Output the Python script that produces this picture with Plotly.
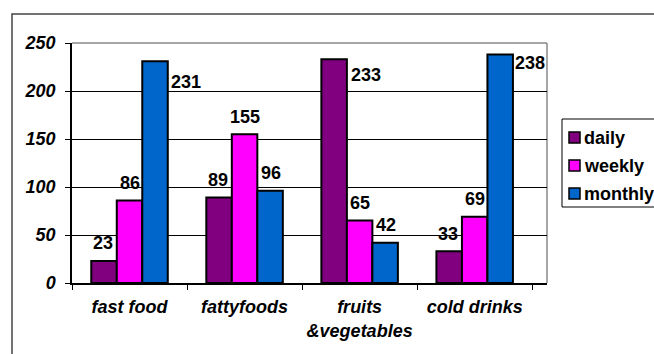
import plotly.graph_objects as go

categories = ["fast food", "fattyfoods", "fruits<br>&vegetables", "cold drinks"]
series_names = ["daily", "weekly", "monthly"]
daily = [23, 89, 233, 33]
weekly = [86, 155, 65, 69]
monthly = [231, 96, 42, 238]
y_ticks = [0, 50, 100, 150, 200, 250]

colors = ["#800080", "#FF00FF", "#0066CC"]
series_values = [daily, weekly, monthly]

W, H = 654, 354
L, R, T, B = 72, 547, 43, 283  # plot area in pixels
BARGAP = 0.335

def px(xp):
    return (xp - L) / (R - L)

def py(yp):
    return (B - yp) / (B - T)

FONT = "Liberation Sans, Arial, sans-serif"
FS = 18

fig = go.Figure()
for name, vals, c in zip(series_names, series_values, colors):
    fig.add_trace(go.Bar(
        x=categories, y=vals, name=name,
        marker=dict(color=c, line=dict(color="black", width=2)),
        showlegend=False,
    ))

# value labels
cat_w = (R - L) / len(categories)
bar_w = cat_w * (1 - BARGAP) / len(series_names)
special = {(0, 2): (30, -21), (2, 0): (33, -16), (3, 2): (29, -8)}
annotations = []
for si, vals in enumerate(series_values):
    for ci, v in enumerate(vals):
        dx, dy = special.get((ci, si), (0, 17.5))
        annotations.append(dict(
            x=categories[ci], y=v, xref="x", yref="y",
            text=str(v), showarrow=False,
            xshift=(si - 1) * bar_w + dx, yshift=dy,
            yanchor="middle", xanchor="center",
            font=dict(family=FONT, size=FS, color="black", weight="bold"),
        ))

# manual legend
shapes = []
shapes.append(dict(type="rect", xref="paper", yref="paper",
                   x0=px(562), x1=px(680), y0=py(207), y1=py(119),
                   line=dict(color="black", width=1), fillcolor="white", layer="above"))
for i, (name, c) in enumerate(zip(series_names, colors)):
    yc = 137.5 + 28 * i
    shapes.append(dict(type="rect", xref="paper", yref="paper",
                       x0=px(569), x1=px(580), y0=py(yc + 5.5), y1=py(yc - 5.5),
                       line=dict(color="black", width=1.5), fillcolor=c, layer="above"))
    annotations.append(dict(
        x=px(582), y=py(yc), xref="paper", yref="paper", text=name,
        showarrow=False, xanchor="left", yanchor="middle",
        font=dict(family=FONT, size=FS, color="black", weight="bold"),
    ))

# outer border (extends past right/bottom edges)
shapes.append(dict(type="rect", xref="paper", yref="paper",
                   x0=px(12), x1=px(700), y0=py(400), y1=py(14),
                   line=dict(color="#444444", width=1.5), layer="below"))
# gray plot frame top/right
shapes.append(dict(type="line", xref="paper", yref="paper",
                   x0=0, x1=1, y0=1, y1=1, line=dict(color="#888888", width=1.5), layer="below"))
shapes.append(dict(type="line", xref="paper", yref="paper",
                   x0=1, x1=1, y0=0, y1=1, line=dict(color="#888888", width=1.5), layer="below"))

fig.update_layout(
    width=W, height=H,
    margin=dict(l=L, r=W - R, t=T, b=H - B, autoexpand=False),
    paper_bgcolor="white", plot_bgcolor="white",
    barmode="group", bargap=BARGAP, bargroupgap=0,
    showlegend=False,
    annotations=annotations, shapes=shapes,
    font=dict(family=FONT, color="black"),
)
fig.update_yaxes(
    range=[0, 250], tickvals=y_ticks, ticktext=[str(t) for t in y_ticks],
    showgrid=True, gridcolor="black", gridwidth=1,
    zeroline=False, showline=True, linecolor="black", linewidth=1.5,
    ticks="outside", ticklen=5, tickcolor="black", tickwidth=1,
    ticklabelstandoff=6,
    tickfont=dict(family=FONT, size=FS, color="black", weight="bold", style="italic"),
)
fig.update_xaxes(
    showline=True, linecolor="black", linewidth=1.5,
    ticks="outside", ticklen=5, tickcolor="black", tickwidth=1,
    tickson="boundaries", showgrid=False, tickangle=0,
    ticklabelstandoff=7,
    tickfont=dict(family=FONT, size=FS, color="black", weight="bold", style="italic"),
)

fig.write_html("out.html")
